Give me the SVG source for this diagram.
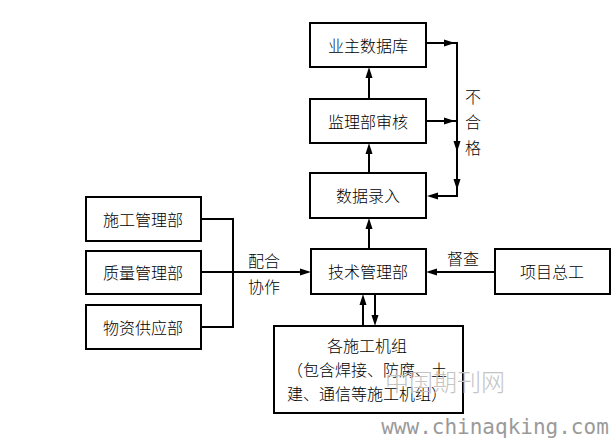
<svg xmlns="http://www.w3.org/2000/svg" xmlns:xlink="http://www.w3.org/1999/xlink" width="611" height="438" viewBox="0 0 611 438">
<style>
.box{fill:#fff;stroke:#000;stroke-width:2}
.t{font-family:"Noto Sans CJK SC","Noto Sans CJK TC",sans-serif;font-size:16px;font-weight:300;fill:#000;text-anchor:middle;dominant-baseline:central}
.ln{fill:none;stroke:#000;stroke-width:2}
.wm{font-family:"Noto Sans CJK SC",sans-serif;font-size:24px;font-weight:300;fill:#c4c4c4;text-anchor:middle;dominant-baseline:central}
.wm2{font-family:"DejaVu Sans Mono","Liberation Mono",monospace;font-size:21px;fill:#9a9a9a;text-anchor:middle;dominant-baseline:central}
</style>
<defs>
<path id="ah" d="M0,0 L-11,-3.5 L-11,3.5 Z" fill="#000"/>
</defs>
<rect width="611" height="438" fill="#fff"/>
<g id="connectors">
<line class="ln" x1="369" y1="173" x2="369" y2="146"/>
<use xlink:href="#ah" transform="translate(369,143) rotate(-90)"/>
<line class="ln" x1="369" y1="99" x2="369" y2="70"/>
<use xlink:href="#ah" transform="translate(369,67) rotate(-90)"/>
<line class="ln" x1="369" y1="249" x2="369" y2="221"/>
<use xlink:href="#ah" transform="translate(369,218) rotate(-90)"/>
<polyline class="ln" points="426,43 457,43 457,196 430,196"/>
<use xlink:href="#ah" transform="translate(455,43)"/>
<line class="ln" x1="426" y1="121" x2="457" y2="121"/>
<use xlink:href="#ah" transform="translate(455,121)"/>
<use xlink:href="#ah" transform="translate(457,152) rotate(90)"/>
<use xlink:href="#ah" transform="translate(457,190) rotate(90)"/>
<use xlink:href="#ah" transform="translate(427,196) rotate(180)"/>
<polyline class="ln" points="201,219 233,219 233,327 201,327"/>
<line class="ln" x1="201" y1="272" x2="308" y2="272"/>
<use xlink:href="#ah" transform="translate(311,272)"/>
<line class="ln" x1="495" y1="272" x2="429" y2="272"/>
<use xlink:href="#ah" transform="translate(426,272) rotate(180)"/>
<line class="ln" x1="363" y1="326" x2="363" y2="297"/>
<use xlink:href="#ah" transform="translate(363,294) rotate(-90)"/>
<line class="ln" x1="375" y1="294" x2="375" y2="323"/>
<use xlink:href="#ah" transform="translate(375,326) rotate(90)"/>
<text class="t" x="473" y="96">不</text>
<text class="t" x="473" y="121">合</text>
<text class="t" x="473" y="147">格</text>
<text class="t" x="264" y="260">配合</text>
<text class="t" x="264" y="286">协作</text>
<text class="t" x="463" y="258">督查</text>
</g>
<g id="n-yezhu"><rect class="box" x="310" y="23" width="116" height="44"/><text class="t" x="368" y="45">业主数据库</text></g>
<g id="n-jianli"><rect class="box" x="310" y="99" width="116" height="44"/><text class="t" x="368" y="121">监理部审核</text></g>
<g id="n-shuju"><rect class="box" x="310" y="173" width="116" height="45"/><text class="t" x="368" y="195">数据录入</text></g>
<g id="n-jishu"><rect class="box" x="311" y="249" width="115" height="45"/><text class="t" x="368" y="271">技术管理部</text></g>
<g id="n-xiangmu"><rect class="box" x="495" y="249" width="115" height="45"/><text class="t" x="552" y="271">项目总工</text></g>
<g id="n-shigong"><rect class="box" x="86" y="197" width="115" height="44"/><text class="t" x="143" y="219">施工管理部</text></g>
<g id="n-zhiliang"><rect class="box" x="86" y="251" width="115" height="43"/><text class="t" x="143" y="272">质量管理部</text></g>
<g id="n-wuzi"><rect class="box" x="86" y="305" width="115" height="44"/><text class="t" x="143" y="327">物资供应部</text></g>
<g id="n-jizu"><rect class="box" x="274" y="326" width="189" height="87"/>
<text class="t" x="367" y="345">各施工机组</text>
<text class="t" x="367" y="369">（包含焊接、防腐、土</text>
<text class="t" x="367" y="393">建、通信等施工机组）</text></g>
<text class="wm" x="445" y="380">中国期刊网</text>
<text class="wm2" x="495" y="427">www.chinaqking.com</text>
</svg>
